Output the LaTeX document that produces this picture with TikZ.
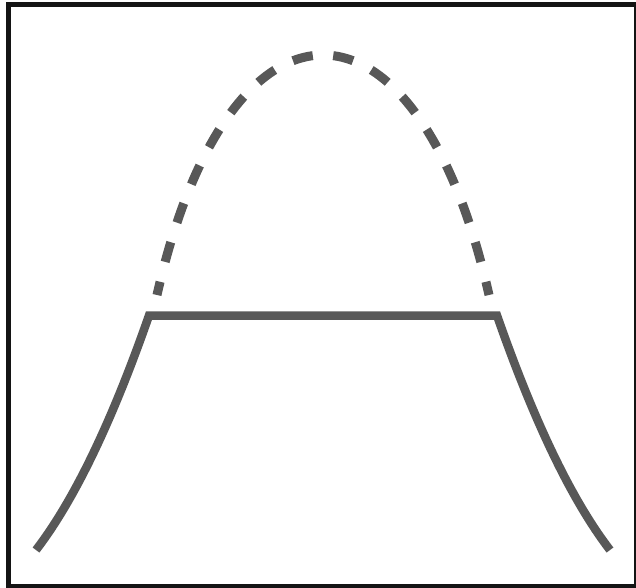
\documentclass[tikz,border=0pt]{standalone}
\usetikzlibrary{calc}
\definecolor{curvegray}{RGB}{88,88,88}
\definecolor{framedark}{RGB}{20,20,20}
\tikzset{
  solidcurve/.style={draw=curvegray, line width=8.5pt, line join=miter},
  dashedcurve/.style={draw=curvegray, line width=9pt, dash pattern=on 0pt off 10.25pt on 20.5pt off 10.25pt},
  frameline/.style={draw=framedark, line width=5pt}
}
\begin{document}
\begin{tikzpicture}[x=1pt,y=-1pt]
  \useasboundingbox (0,0) rectangle (636,587);
  % frame
  \draw[frameline] (8.5,4.5) rectangle (636.5,586.5);
  % named points
  \coordinate (bl) at (36,550);
  \coordinate (cl) at (149,315.5);
  \coordinate (cr) at (497,315.5);
  \coordinate (br) at (610,550);
  \coordinate (top) at (323,55);
  \coordinate (al) at (157,295);
  \coordinate (ar) at (489,295);
  % solid outline
  \draw[solidcurve] (bl) .. controls (73.6,501.1) and (111.3,423.5) .. (cl)
        -- (cr) .. controls (534.7,423.5) and (572.4,501.1) .. (br);
  % dashed arc, drawn from the top outwards
  \draw[dashedcurve] (top) .. controls (258,55) and (193,135) .. (al);
  \draw[dashedcurve] (top) .. controls (388,55) and (453,135) .. (ar);
\end{tikzpicture}
\end{document}
